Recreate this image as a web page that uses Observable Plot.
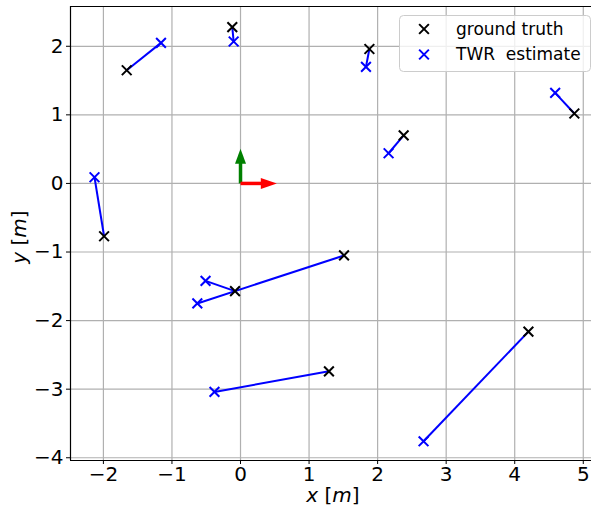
<!DOCTYPE html>
<html>
<head>
<meta charset="utf-8">
<script src="https://cdn.jsdelivr.net/npm/d3@7"></script>
<script src="https://cdn.jsdelivr.net/npm/@observablehq/plot@0.6"></script>
<style>
  html, body { margin: 0; padding: 0; background: #fff; }
  #chart { position: relative; width: 591px; height: 512px; }
  svg { font-family: "DejaVu Sans", sans-serif; }
</style>
</head>
<body>
<div id="chart"></div>
<script>
// ---- data ----
const xDomain = [-2.48, 5.12];
const yDomain = [-4.04, 2.58];
const xTicks = [-2, -1, 0, 1, 2, 3, 4, 5];
const yTicks = [-4, -3, -2, -1, 0, 1, 2];

const gtX  = [-1.66, -0.12, -1.99, 1.88, 2.38, 4.87, 1.51, -0.08, 1.29, 4.20];
const gtY  = [ 1.65,  2.28, -0.77, 1.96, 0.70, 1.02, -1.05, -1.57, -2.74, -2.16];
const estX = [-1.16, -0.10, -2.13, 1.83, 2.16, 4.59, -0.63, -0.51, -0.38, 2.67];
const estY = [ 2.05,  2.07,  0.09, 1.70, 0.44, 1.32, -1.75, -1.42, -3.04, -3.76];

// frame axes arrows (origin -> tip), shaft ends under the head
const arrowTipX   = [0, 0.53];
const arrowTipY   = [0.505, 0];
const arrowShaftX = [0, 0.33];
const arrowShaftY = [0.31, 0];
const arrowColor  = ["#008000", "#ff0000"];
const arrowDir    = ["up", "right"];

const legendLabels = ["ground truth", "TWR  estimate"];
const legendColors = ["#000000", "#0000ff"];

// ---- tables ----
const pairs = gtX.map((_, i) => ({gx: gtX[i], gy: gtY[i], ex: estX[i], ey: estY[i]}));
const arrows = arrowTipX.map((_, i) => ({
  x0: 0, y0: 0, sx: arrowShaftX[i], sy: arrowShaftY[i],
  tx: arrowTipX[i], ty: arrowTipY[i], color: arrowColor[i], dir: arrowDir[i]
}));

const headUp = {draw(ctx) { ctx.moveTo(0, 0); ctx.lineTo(5.5, 15); ctx.lineTo(-5.5, 15); ctx.closePath(); }};
const headRight = {draw(ctx) { ctx.moveTo(0, 0); ctx.lineTo(-16, 5.5); ctx.lineTo(-16, -5.5); ctx.closePath(); }};
const intFmt = d3.format("d");

const plot = Plot.plot({
  width: 591,
  height: 512,
  marginLeft: 70,
  marginRight: 0,
  marginTop: 6,
  marginBottom: 52,
  style: {fontFamily: "DejaVu Sans, sans-serif", background: "#fff", overflow: "visible"},
  x: {domain: xDomain, label: null},
  y: {domain: yDomain, label: null},
  marks: [
    Plot.gridX(xTicks, {stroke: "#b0b0b0", strokeOpacity: 1, strokeWidth: 1.2}),
    Plot.gridY(yTicks, {stroke: "#b0b0b0", strokeOpacity: 1, strokeWidth: 1.2}),
    Plot.ruleX([xDomain[0]], {stroke: "#000", strokeWidth: 1.2}),
    Plot.ruleY([yDomain[0], yDomain[1]], {stroke: "#000", strokeWidth: 1.2}),
    Plot.axisX({ticks: xTicks, tickSize: 4, tickPadding: 2, fontSize: 20, label: null, tickFormat: intFmt}),
    Plot.axisY({ticks: yTicks, tickSize: 4, tickPadding: 3, fontSize: 20, label: null, tickFormat: intFmt}),
    // arrows
    Plot.link(arrows, {x1: "x0", y1: "y0", x2: "sx", y2: "sy", stroke: "color", strokeWidth: 3.5, strokeLinecap: "butt"}),
    Plot.dot(arrows.filter(d => d.dir === "up"), {x: "tx", y: "ty", fill: "color", stroke: "none", symbol: headUp}),
    Plot.dot(arrows.filter(d => d.dir === "right"), {x: "tx", y: "ty", fill: "color", stroke: "none", symbol: headRight}),
    // error lines
    Plot.link(pairs, {x1: "gx", y1: "gy", x2: "ex", y2: "ey", stroke: "#0000ff", strokeWidth: 2}),
    Plot.dot(pairs, {x: "gx", y: "gy", symbol: "times", r: 4.5, stroke: "#000", strokeWidth: 2}),
    Plot.dot(pairs, {x: "ex", y: "ey", symbol: "times", r: 4.5, stroke: "#0000ff", strokeWidth: 2})
  ]
});

document.getElementById("chart").appendChild(plot);

// ---- axis labels with italic math ----
const svg = d3.select(plot);
const xl = svg.append("text")
  .attr("x", 333).attr("y", 502)
  .attr("text-anchor", "middle")
  .attr("font-size", 20).attr("fill", "#000");
xl.append("tspan").attr("font-style", "italic").text("x");
xl.append("tspan").text(" [");
xl.append("tspan").attr("font-style", "italic").text("m");
xl.append("tspan").text("]");

const yl = svg.append("text")
  .attr("transform", "translate(26,237) rotate(-90)")
  .attr("text-anchor", "middle")
  .attr("font-size", 20).attr("fill", "#000");
yl.append("tspan").attr("font-style", "italic").text("y");
yl.append("tspan").text(" [");
yl.append("tspan").attr("font-style", "italic").text("m");
yl.append("tspan").text("]");

// ---- legend ----
const lg = svg.append("g").attr("text-anchor", "start");
lg.append("rect")
  .attr("x", 399.5).attr("y", 15.5).attr("width", 191).attr("height", 56)
  .attr("rx", 4).attr("fill", "#fff").attr("fill-opacity", 0.8)
  .attr("stroke", "#cccccc").attr("stroke-width", 1);
const timesPath = d3.symbol(d3.symbolTimes, Math.PI * 4.5 * 4.5)();
legendLabels.forEach((label, i) => {
  const cy = 29 + i * 25.5;
  lg.append("path").attr("d", timesPath)
    .attr("transform", `translate(424,${cy})`)
    .attr("fill", "none").attr("stroke", legendColors[i]).attr("stroke-width", 2);
  lg.append("text").attr("x", 456).attr("y", cy).attr("dy", "0.35em")
    .attr("text-anchor", "start")
    .attr("font-size", 17).attr("fill", "#000")
    .style("white-space", "pre").attr("xml:space", "preserve")
    .text(label);
});
</script>
</body>
</html>
